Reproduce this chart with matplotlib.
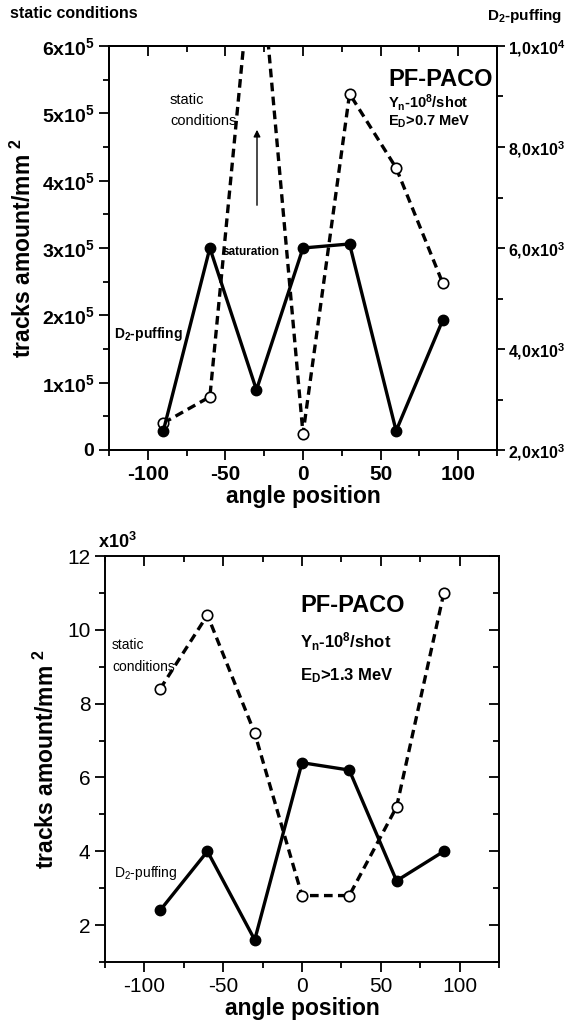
import matplotlib
matplotlib.use("Agg")
import matplotlib.pyplot as plt
from matplotlib.ticker import MultipleLocator, FuncFormatter

plt.rcParams['font.family'] = ['Liberation Sans', 'DejaVu Sans']
plt.rcParams['mathtext.default'] = 'regular'
plt.rcParams['axes.unicode_minus'] = False

# ── data ────────────────────────────────────────────────────────────────
angles = [-90, -60, -30, 0, 30, 60, 90]

# top panel: E_D > 0.7 MeV
static_top = [0.40e5, 0.79e5, 8.0e5, 0.24e5, 5.29e5, 4.19e5, 2.48e5]   # left axis
puff_top = [2.38e3, 6.0e3, 3.19e3, 6.0e3, 6.08e3, 2.38e3, 4.57e3]      # right axis

# bottom panel: E_D > 1.3 MeV (x10^3)
static_bot = [8.4, 10.4, 7.2, 2.8, 2.8, 5.2, 11.0]
puff_bot = [2.4, 4.0, 1.6, 6.4, 6.2, 3.2, 4.0]

W, H = 567, 1030
fig = plt.figure(figsize=(W / 100, H / 100), dpi=100)


def fx(px):
    return px / W


def fy(py):
    return 1 - py / H


dash_kw = dict(color='black', lw=2.4, ls=(0, (2.6, 1.6)), marker='o', ms=7.5,
               mfc='white', mec='black', mew=1.2, zorder=3)
solid_kw = dict(color='black', lw=2.4, ls='-', marker='o', ms=7.5,
                mfc='black', mec='black', zorder=3)

# ── top panel ───────────────────────────────────────────────────────────
ax1 = fig.add_axes([fx(109), fy(450), fx(497 - 109), (450 - 46) / H])
ax1r = ax1.twinx()

ax1.plot(angles, static_top, **dash_kw)
ax1r.plot(angles, puff_top, **solid_kw)

ax1.set_xlim(-125, 125)
ax1.set_ylim(0, 6e5)
ax1r.set_ylim(2e3, 1e4)

ax1.xaxis.set_major_locator(MultipleLocator(50))
ax1.xaxis.set_minor_locator(MultipleLocator(25))
ax1.yaxis.set_major_locator(MultipleLocator(1e5))
ax1.yaxis.set_minor_locator(MultipleLocator(0.5e5))
ax1r.yaxis.set_major_locator(MultipleLocator(2e3))
ax1r.yaxis.set_minor_locator(MultipleLocator(1e3))


def left_fmt(v, pos):
    n = int(round(v / 1e5))
    return '0' if n == 0 else f'{n}x10$^5$'


def right_fmt(v, pos):
    if v >= 1e4 - 1:
        return '1,0x10$^4$'
    return f'{v / 1e3:.1f}'.replace('.', ',') + 'x10$^3$'


ax1.yaxis.set_major_formatter(FuncFormatter(left_fmt))
ax1r.yaxis.set_major_formatter(FuncFormatter(right_fmt))

ax1.tick_params(axis='x', which='both', direction='out', top=True, labeltop=False)
ax1.tick_params(axis='y', which='both', direction='out', right=False)
ax1.tick_params(which='major', length=7, width=1.3)
ax1.tick_params(which='minor', length=4.5, width=1.3)
ax1r.tick_params(which='both', direction='out', width=1.3, pad=2)
ax1r.tick_params(which='major', length=6)
ax1r.tick_params(which='minor', length=4.5)
# top ticks point inward
for t in ax1.xaxis.get_major_ticks() + ax1.xaxis.get_minor_ticks():
    t.tick2line.set_marker(matplotlib.lines.TICKDOWN)

for lab in ax1.get_xticklabels():
    lab.set_fontweight('bold')
    lab.set_fontsize(15)
for lab in ax1.get_yticklabels():
    lab.set_fontweight('bold')
    lab.set_fontsize(14)
for lab in ax1r.get_yticklabels():
    lab.set_fontweight('bold')
    lab.set_fontsize(11.5)

ax1.set_xlabel('angle position', fontsize=16.5, fontweight='bold', labelpad=1)
ax1.set_ylabel('tracks amount/mm $^2$', fontsize=16.5, fontweight='bold', labelpad=4)
for sp in list(ax1.spines.values()) + list(ax1r.spines.values()):
    sp.set_linewidth(1.4)

fig.text(fx(10), fy(14), 'static conditions', fontsize=11.5, fontweight='bold',
         va='center', ha='left')
fig.text(fx(487), fy(16), 'D$_2$-puffing', fontsize=11, fontweight='bold',
         va='center', ha='left')
fig.text(fx(388), fy(80), 'PF-PACO', fontsize=17, fontweight='bold', va='center')
fig.text(fx(388), fy(102), 'Y$_n$-10$^8$/shot', fontsize=10.5, fontweight='bold', va='center')
fig.text(fx(388), fy(122), 'E$_D$>0.7 MeV', fontsize=10.5, fontweight='bold', va='center')
fig.text(fx(170), fy(100), 'static', fontsize=10.5, va='center')
fig.text(fx(170), fy(121), 'conditions', fontsize=10.5, va='center')
fig.text(fx(223), fy(252), 'saturation', fontsize=8.5, fontweight='bold', va='center')
fig.text(fx(114), fy(334), 'D$_2$-puffing', fontsize=10, fontweight='bold', va='center')
fig.add_artist(matplotlib.patches.FancyArrowPatch(
    (fx(257), fy(208)), (fx(257), fy(127)), transform=fig.transFigure,
    arrowstyle='-|>', mutation_scale=10, lw=1.0, color='black'))

# ── bottom panel ────────────────────────────────────────────────────────
ax2 = fig.add_axes([fx(105), fy(962), fx(499 - 105), (962 - 556) / H])
ax2.plot(angles, static_bot, **dash_kw)
ax2.plot(angles, puff_bot, **solid_kw)

ax2.set_xlim(-125, 125)
ax2.set_ylim(1, 12)
ax2.xaxis.set_major_locator(MultipleLocator(50))
ax2.xaxis.set_minor_locator(MultipleLocator(25))
ax2.yaxis.set_major_locator(MultipleLocator(2))
ax2.yaxis.set_minor_locator(MultipleLocator(1))
ax2.yaxis.set_major_formatter(FuncFormatter(lambda v, p: f'{int(v)}'))

ax2.tick_params(which='both', direction='out', top=True, right=True, width=1.3)
ax2.tick_params(which='major', length=7, labelsize=15)
ax2.tick_params(which='minor', length=4.5)
for t in ax2.xaxis.get_major_ticks() + ax2.xaxis.get_minor_ticks():
    t.tick2line.set_marker(matplotlib.lines.TICKDOWN)
for t in ax2.yaxis.get_major_ticks() + ax2.yaxis.get_minor_ticks():
    t.tick2line.set_marker(matplotlib.lines.TICKLEFT)
for sp in ax2.spines.values():
    sp.set_linewidth(1.4)

ax2.set_xlabel('angle position', fontsize=16.5, fontweight='bold', labelpad=1)
ax2.set_ylabel('tracks amount/mm $^2$', fontsize=16.5, fontweight='bold', labelpad=6)

fig.text(fx(98), fy(542), 'x10$^3$', fontsize=13, fontweight='bold', va='center')
fig.text(fx(300), fy(606), 'PF-PACO', fontsize=17, fontweight='bold', va='center')
fig.text(fx(300), fy(642), 'Y$_n$-10$^8$/shot', fontsize=12, fontweight='bold', va='center')
fig.text(fx(300), fy(676), 'E$_D$>1.3 MeV', fontsize=12, fontweight='bold', va='center')
fig.text(fx(112), fy(645), 'static', fontsize=10, va='center')
fig.text(fx(112), fy(667), 'conditions', fontsize=10, va='center')
fig.text(fx(114), fy(873), 'D$_2$-puffing', fontsize=10, va='center')

fig.savefig('out.png', dpi=100)
